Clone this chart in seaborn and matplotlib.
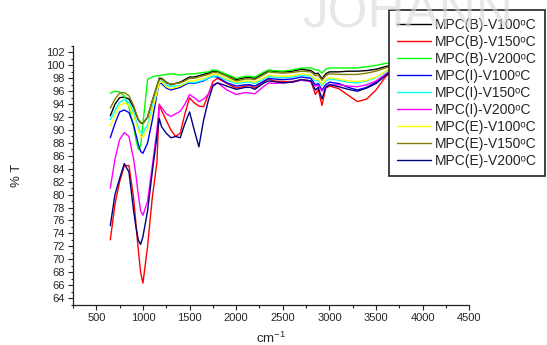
import numpy as np
import pandas as pd
import matplotlib
matplotlib.use("Agg")
import matplotlib.pyplot as plt
import seaborn as sns
from matplotlib.ticker import MultipleLocator

wavenumber = [650, 700, 750, 800, 850, 900, 925, 950, 975, 1000, 1050, 1100, 1150, 1175, 1200,
              1250, 1300, 1350, 1400, 1450, 1500, 1550, 1600, 1650, 1700, 1750, 1800, 1900, 2000,
              2100, 2150, 2200, 2300, 2350, 2400, 2500, 2600, 2700, 2800, 2850, 2880, 2920, 2960,
              3000, 3100, 3200, 3300, 3400, 3500, 3600, 3700, 3800, 4000]

b_v100 = [92.2, 94.0, 95.0, 95.1, 94.8, 93.5, 92.5, 91.6, 91.1, 91.0, 92.0, 94.5, 96.8, 98.0, 98.0,
          97.4, 97.0, 97.2, 97.4, 97.8, 98.2, 98.2, 98.4, 98.6, 98.8, 99.1, 99.1, 98.5, 97.8,
          98.1, 98.1, 98.0, 98.8, 99.2, 99.1, 99.0, 99.1, 99.4, 99.2, 98.7, 98.8, 97.9, 98.7,
          99.0, 99.0, 99.1, 99.1, 99.2, 99.4, 99.8, 100.2, 100.4, 100.5]
b_v150 = [73.0, 78.5, 82.0, 84.5, 84.5, 79.5, 75.5, 71.5, 68.0, 66.3, 72.0, 79.5, 85.0, 94.0, 93.0,
          91.5, 90.0, 89.0, 89.5, 92.5, 95.0, 94.2, 93.7, 93.6, 95.5, 97.5, 98.0, 97.2, 96.5,
          96.8, 96.9, 96.5, 97.5, 97.9, 97.6, 97.5, 97.5, 97.8, 97.6, 95.5, 96.3, 93.8, 96.5,
          96.8, 96.4, 95.4, 94.4, 94.8, 96.2, 98.2, 99.5, 100.0, 100.2]
b_v200 = [95.7, 96.0, 95.9, 95.3, 93.5, 90.5, 88.5, 87.0, 87.5, 91.0, 97.8, 98.2, 98.4, 98.4, 98.5,
          98.6, 98.7, 98.6, 98.5, 98.6, 98.7, 98.7, 98.8, 98.9, 99.0, 99.3, 99.2, 98.6, 98.0,
          98.3, 98.3, 98.2, 99.0, 99.3, 99.2, 99.1, 99.3, 99.6, 99.6, 99.3, 99.3, 98.8, 99.4,
          99.6, 99.6, 99.6, 99.6, 99.8, 100.0, 100.3, 100.5, 100.6, 100.7]
i_v100 = [88.8, 91.0, 92.8, 93.1, 92.7, 90.8, 89.3, 87.8, 86.7, 86.4, 88.0, 91.5, 95.5, 97.3, 97.2,
          96.5, 96.2, 96.4, 96.6, 97.0, 97.3, 97.2, 97.4, 97.6, 98.0, 98.3, 98.2, 97.3, 96.8,
          97.0, 97.0, 96.8, 97.6, 98.0, 97.9, 97.8, 97.9, 98.2, 98.0, 97.0, 97.2, 96.2, 97.0,
          97.4, 97.2, 96.6, 96.2, 96.6, 97.4, 98.6, 99.6, 100.0, 100.1]
i_v150 = [91.6, 93.0, 94.3, 94.7, 94.3, 92.7, 91.6, 90.4, 89.7, 89.5, 90.8, 93.5, 96.0, 97.4, 97.6,
          97.0, 96.7, 96.8, 96.9, 97.2, 97.4, 97.3, 97.5, 97.7, 98.0, 98.3, 98.4, 97.7, 97.2,
          97.4, 97.4, 97.2, 97.9, 98.3, 98.2, 98.1, 98.2, 98.5, 98.3, 97.6, 97.7, 96.9, 97.6,
          97.9, 97.7, 97.4, 97.3, 97.6, 98.1, 99.0, 99.8, 100.1, 100.2]
i_v200 = [81.0, 85.5, 88.5, 89.6, 89.0, 85.5, 83.0, 80.0, 77.5, 76.8, 79.0, 84.4, 90.0, 93.9, 93.5,
          92.5, 92.1, 92.5, 92.9, 94.0, 95.5, 95.0, 94.4, 94.8, 95.5, 97.0, 97.3, 96.2, 95.5,
          95.8, 95.7, 95.6, 96.8, 97.3, 97.2, 97.3, 97.4, 97.7, 97.5, 96.8, 96.9, 96.0, 96.7,
          97.0, 97.0, 96.8, 96.7, 97.0, 97.6, 98.6, 99.5, 99.9, 100.0]
e_v100 = [90.6, 92.3, 93.8, 94.2, 93.8, 92.2, 91.0, 89.9, 89.0, 88.8, 90.2, 93.0, 95.8, 97.3, 97.5,
          96.7, 96.4, 96.6, 96.8, 97.2, 97.6, 97.6, 97.8, 98.0, 98.3, 98.6, 98.6, 97.9, 97.4,
          97.6, 97.6, 97.4, 98.1, 98.5, 98.4, 98.3, 98.4, 98.7, 98.5, 97.8, 97.9, 97.1, 97.8,
          98.1, 97.9, 97.6, 97.5, 97.7, 98.2, 99.1, 99.9, 100.2, 100.3]
e_v150 = [93.4, 94.8, 95.7, 95.8, 95.3, 93.8, 92.7, 91.7, 91.2, 91.1, 92.0, 94.5, 96.8, 97.8, 97.9,
          97.3, 97.1, 97.2, 97.3, 97.6, 98.0, 98.0, 98.2, 98.4, 98.6, 98.9, 98.9, 98.3, 97.6,
          97.9, 97.9, 97.8, 98.6, 99.0, 98.9, 98.8, 98.9, 99.1, 99.0, 98.4, 98.5, 97.7, 98.4,
          98.7, 98.6, 98.6, 98.6, 98.8, 99.1, 99.6, 100.1, 100.3, 100.4]
e_v200 = [75.2, 80.0, 82.5, 84.8, 83.5, 77.5, 75.0, 73.0, 72.3, 73.5, 77.5, 83.5, 89.0, 91.8, 90.5,
          89.5, 88.8, 89.0, 88.8, 91.0, 92.8, 90.0, 87.4, 91.5, 94.5, 96.8, 97.3, 96.8, 96.3,
          96.6, 96.6, 96.3, 97.3, 97.6, 97.5, 97.3, 97.4, 97.8, 97.6, 96.2, 96.6, 94.8, 96.6,
          97.0, 96.7, 96.3, 96.0, 96.5, 97.2, 98.4, 99.5, 99.9, 100.0]

labels = ["MPC(B)-V100\u1d52C", "MPC(B)-V150\u1d52C", "MPC(B)-V200\u1d52C",
          "MPC(I)-V100\u1d52C", "MPC(I)-V150\u1d52C", "MPC(I)-V200\u1d52C",
          "MPC(E)-V100\u1d52C", "MPC(E)-V150\u1d52C", "MPC(E)-V200\u1d52C"]
series = [b_v100, b_v150, b_v200, i_v100, i_v150, i_v200, e_v100, e_v150, e_v200]
colors = ["#000000", "#ff0000", "#00ff00", "#0000ff", "#00ffff", "#ff00ff", "#ffff00", "#808000", "#000080"]

x_ticks = [500, 1000, 1500, 2000, 2500, 3000, 3500, 4000, 4500]
y_ticks = list(range(64, 103, 2))

frames = []
for lab, vals in zip(labels, series):
    frames.append(pd.DataFrame({"wn": wavenumber, "T": vals, "sample": lab}))
df = pd.concat(frames, ignore_index=True)

sns.set_style("ticks")
plt.rcParams["font.family"] = ["Liberation Sans", "DejaVu Sans"]
plt.rcParams["mathtext.fontset"] = "custom"
plt.rcParams["mathtext.rm"] = "Liberation Sans"

fig = plt.figure(figsize=(5.47, 3.45), dpi=100)
ax = fig.add_axes([73/547, 1 - 304.5/345, (469.3 - 73)/547, (304.5 - 46)/345])

sns.lineplot(data=df, x="wn", y="T", hue="sample", hue_order=labels, palette=colors,
             estimator=None, sort=True, linewidth=1.0, ax=ax)

ax.set_xlim(250, 4500)
ax.set_ylim(63, 103)
ax.set_xticks(x_ticks)
ax.set_yticks(y_ticks)
ax.xaxis.set_minor_locator(MultipleLocator(250))
ax.yaxis.set_minor_locator(MultipleLocator(1))
ax.tick_params(which="major", direction="out", length=3.6, width=0.8, labelsize=8, color="#222222", pad=2.5)
ax.tick_params(which="minor", direction="out", length=1.8, width=0.8, color="#222222")
for s in ["top", "right"]:
    ax.spines[s].set_visible(False)
for s in ["left", "bottom"]:
    ax.spines[s].set_linewidth(0.9)
    ax.spines[s].set_color("#222222")

ax.set_xlabel(r"cm$^{\mathrm{-1}}$", fontsize=9.5)
ax.set_ylabel("% T", fontsize=9.5)
ax.xaxis.set_label_coords(0.5, -0.1)
ax.yaxis.set_label_coords(-0.125, 0.5)

handles, labs = ax.get_legend_handles_labels()
ax.get_legend().remove()
for h in handles:
    h.set_linewidth(1.0)
leg = fig.legend(handles, labs, loc="upper left", bbox_to_anchor=(389/547, 1 - 10/345),
                 borderaxespad=0, fontsize=10, frameon=True, fancybox=False,
                 edgecolor="#222222", facecolor="white", framealpha=1,
                 borderpad=0.6, handlelength=2.4, handletextpad=0.3, labelspacing=0.21)
leg.get_frame().set_linewidth(1.2)

fig.text(302/547, 1 - 27/345, "JOHANN", fontsize=37, color="#d8d8d8", alpha=0.6,
         ha="left", va="baseline", zorder=10)

fig.savefig("out.png", dpi=100)
